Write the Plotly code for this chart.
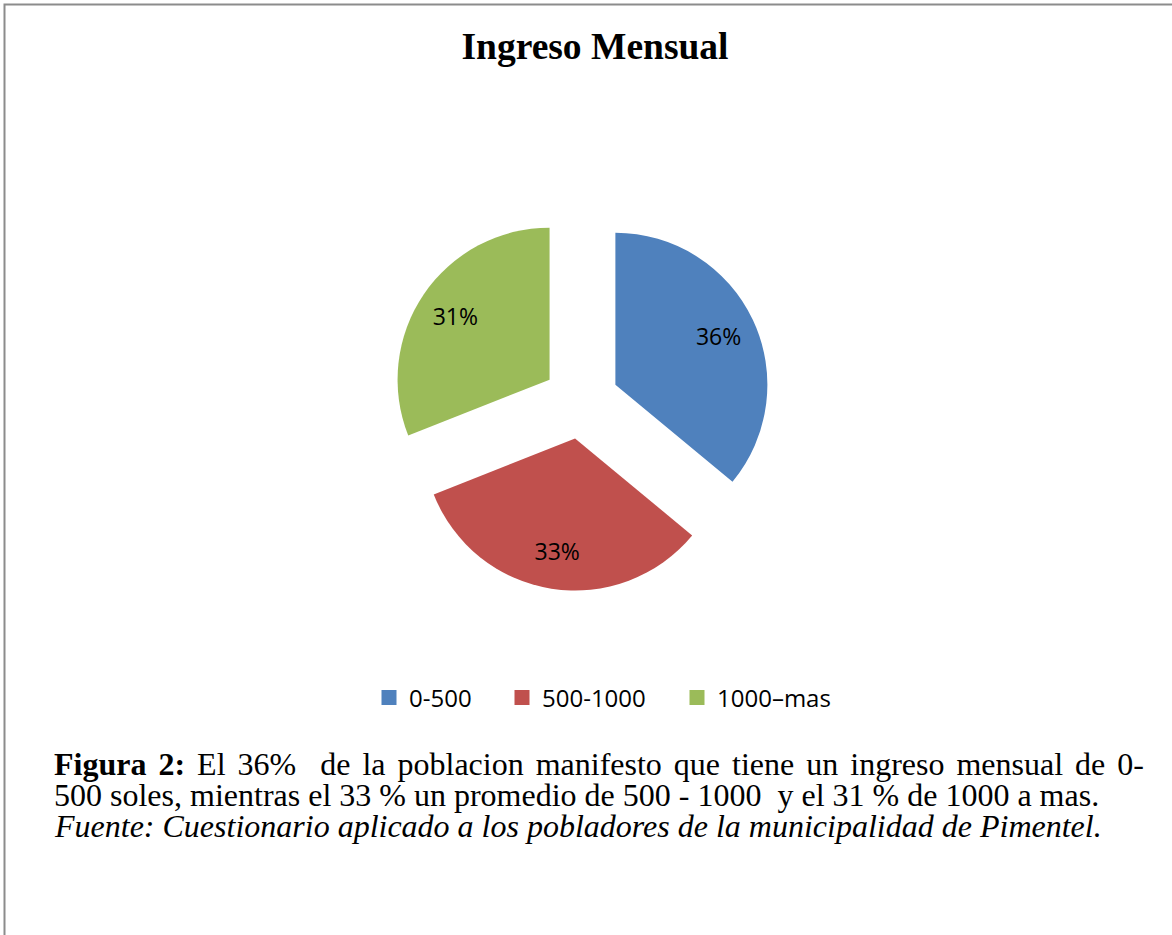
import plotly.graph_objects as go

# ---- data ----
categories = ["0-500", "500-1000", "1000–mas"]
values = [36, 33, 31]
colors = ["#4F81BD", "#C0504D", "#9BBB59"]

title_text = "Ingreso Mensual"
caption_lines = [
    "<b>Figura 2:</b> El 36%\u00a0 de la poblacion manifesto que tiene un ingreso mensual de 0-",
    "500 soles, mientras el 33 % un promedio de 500 - 1000\u00a0 y el 31 % de 1000 a mas.",
    "<i>Fuente: Cuestionario aplicado a los pobladores de la municipalidad de Pimentel.</i>",
]

W, H = 1172, 935
cx, cy, box = 581, 401, 380  # pie box centre and size in px
dom_x = [(cx - box / 2) / W, (cx + box / 2) / W]
dom_y = [1 - (cy + box / 2) / H, 1 - (cy - box / 2) / H]
pull = [0.25, 0.25, 0.25]
legend_entry_widths = [88, 130, 120]  # px spacing of legend entries

fig = go.Figure()
# main pie (slices)
fig.add_trace(go.Pie(
    labels=categories, values=values, sort=False, direction="clockwise",
    rotation=0, pull=pull, domain=dict(x=dom_x, y=dom_y),
    marker=dict(colors=colors, line=dict(width=0)),
    textinfo="none", hoverinfo="label+percent", showlegend=False,
))
# transparent ring carrying the percentage labels (positions them like Excel)
fig.add_trace(go.Pie(
    labels=categories, values=values, sort=False, direction="clockwise",
    rotation=0, pull=pull, hole=0.5, domain=dict(x=dom_x, y=dom_y),
    marker=dict(colors=["rgba(0,0,0,0)"] * 3, line=dict(width=0)),
    textinfo="percent", textposition="inside", insidetextorientation="horizontal",
    textfont=dict(family="Open Sans", size=23, color="#000000"),
    hoverinfo="skip", showlegend=False,
))
# legend entries (square swatches like the Excel legend)
for name, col, lw in zip(categories, colors, legend_entry_widths):
    fig.add_trace(go.Scatter(
        x=[None], y=[None], mode="markers", name=name,
        marker=dict(symbol="square", size=15, color=col, line=dict(width=0)),
        legendwidth=lw, hoverinfo="skip",
    ))

fig.update_layout(
    width=W, height=H,
    margin=dict(l=0, r=0, t=0, b=0),
    paper_bgcolor="white", plot_bgcolor="white",
    xaxis=dict(visible=False), yaxis=dict(visible=False),
    title=dict(text="<b>" + title_text + "</b>", x=595 / W, xanchor="center",
               y=1 - 46 / H, yanchor="middle",
               font=dict(family="Liberation Serif", size=37.5, color="#000000")),
    legend=dict(orientation="h", x=369 / W, xanchor="left", y=1 - 698 / H,
                yanchor="middle", font=dict(family="Open Sans", size=24, color="#000000"),
                traceorder="normal", bgcolor="rgba(0,0,0,0)"),
    shapes=[dict(type="rect", xref="paper", yref="paper",
                 x0=4.5 / W, x1=1.05, y0=-0.05, y1=1 - 4.5 / H,
                 line=dict(color="#8C8C8C", width=2), fillcolor="rgba(0,0,0,0)")],
)

line_centers = [764, 795, 826]
for i, (txt, yc) in enumerate(zip(caption_lines, line_centers)):
    if i == 0:
        txt = '<span style="word-spacing:4px">' + txt + '</span>'
    fig.add_annotation(text=txt, xref="paper", yref="paper", x=52 / W, y=1 - yc / H,
                       xanchor="left", yanchor="middle", showarrow=False, align="left",
                       font=dict(family="Liberation Serif", size=32, color="#000000"))

fig.write_html("out.html", config={"displayModeBar": False},
               post_script="document.body.style.margin='0';document.body.style.overflow='hidden';")
